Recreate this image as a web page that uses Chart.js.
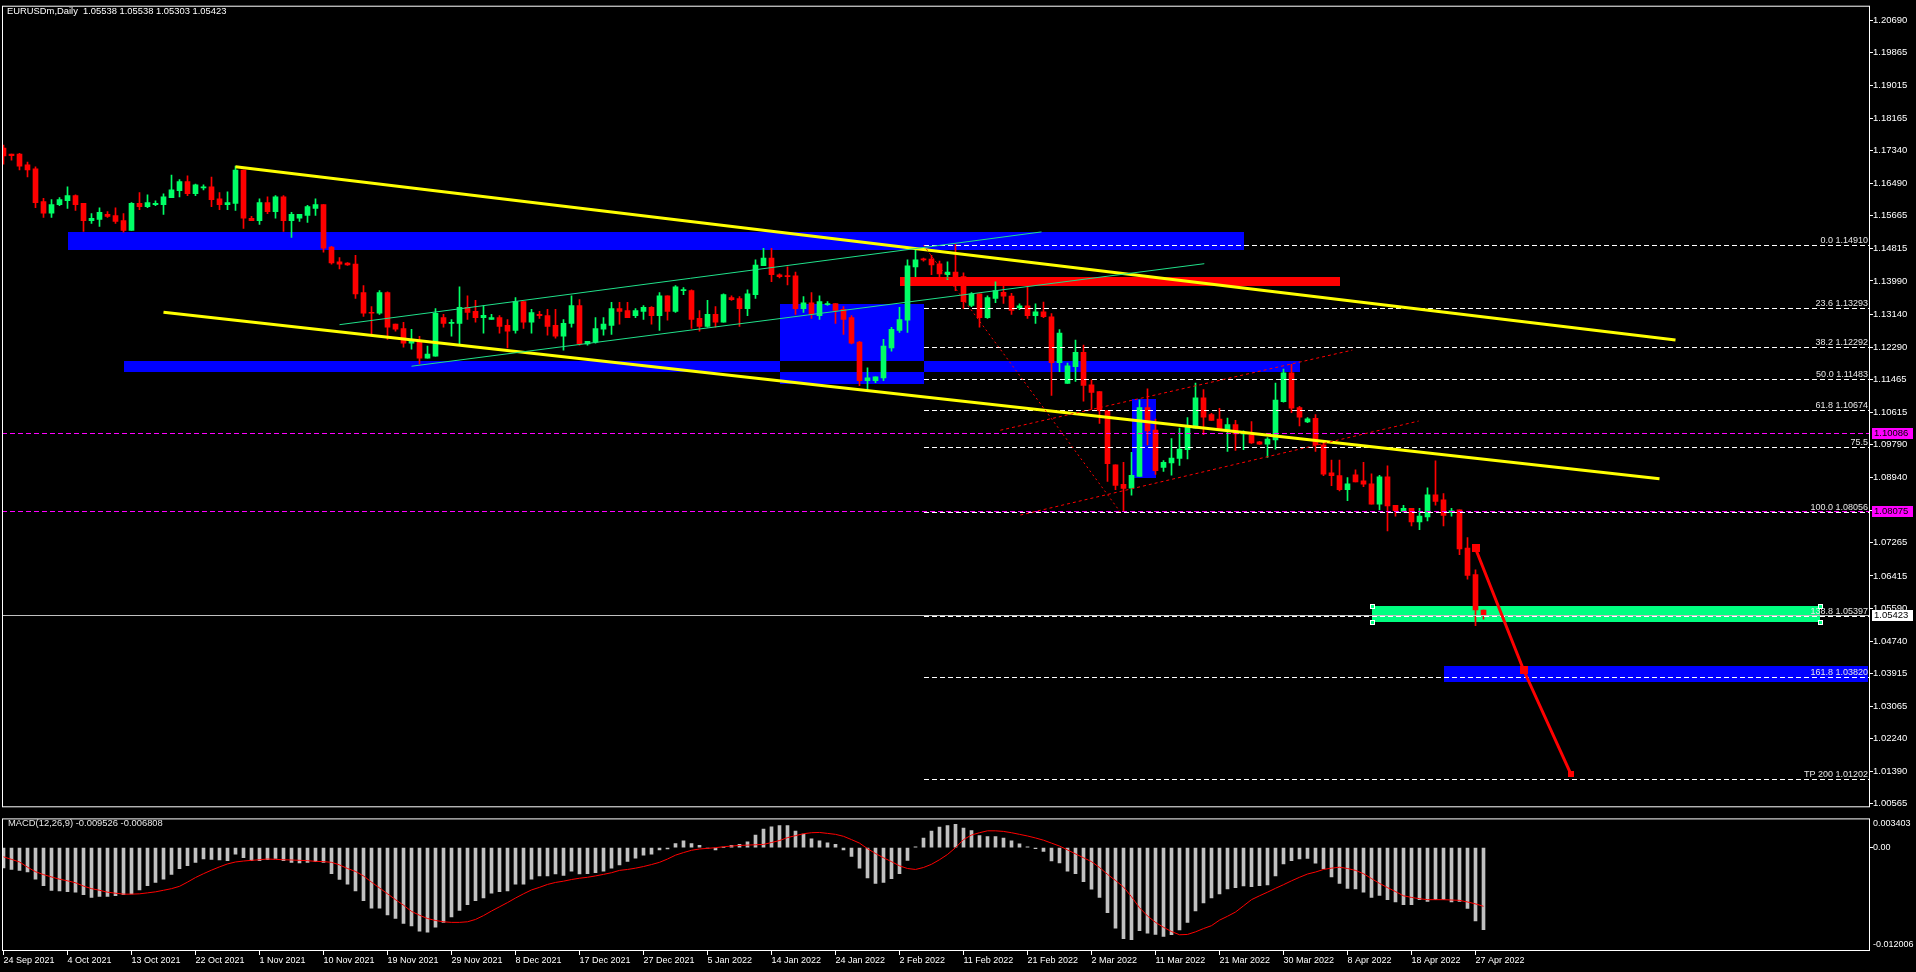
<!DOCTYPE html>
<html>
<head>
<meta charset="utf-8">
<title>EURUSDm, Daily</title>
<script src="https://cdn.jsdelivr.net/npm/chart.js@4.4.1/dist/chart.umd.min.js"></script>
<style>
  html, body { margin: 0; padding: 0; background: #000; overflow: hidden; }
  #wrap { position: relative; width: 1916px; height: 972px; }
  canvas { position: absolute; left: 0; }
  #main { top: 0; }
  #macd { top: 813px; }
</style>
</head>
<body>
<div id="wrap">
  <canvas id="main" width="1916" height="813"></canvas>
  <canvas id="macd" width="1916" height="159"></canvas>
</div>
<script>
// daily bars, 24 Sep 2021 .. 28 Apr 2022 (broker feed with Sunday bars)
const opens = [
  1.1740,1.1725,1.1725,1.1697,1.1687,1.1603,1.1573,1.1595,1.1605,1.1618,
  1.1598,1.1554,1.1557,1.1570,1.1567,1.1554,1.1529,1.1598,1.1590,1.1595,
  1.1595,1.1613,1.1631,1.1654,1.1623,1.1638,1.1641,1.1610,1.1595,1.1598,
  1.1684,1.1560,1.1554,1.1600,1.1577,1.1615,1.1554,1.1560,1.1567,1.1585,
  1.1595,1.1486,1.1448,1.1445,1.1442,1.1369,1.1318,1.1316,1.1369,1.1288,
  1.1277,1.1239,1.1244,1.1201,1.1206,1.1305,1.1290,1.1290,1.1331,1.1321,
  1.1305,1.1300,1.1305,1.1285,1.1272,1.1346,1.1293,1.1313,1.1310,1.1285,
  1.1257,1.1290,1.1336,1.1237,1.1242,1.1275,1.1285,1.1328,1.1323,1.1310,
  1.1321,1.1331,1.1310,1.1361,1.1321,1.1374,1.1374,1.1303,1.1282,1.1313,
  1.1293,1.1356,1.1354,1.1328,1.1364,1.1438,1.1458,1.1415,1.1412,1.1412,
  1.1328,1.1343,1.1310,1.1338,1.1341,1.1326,1.1305,1.1242,1.1143,1.1143,
  1.1150,1.1227,1.1272,1.1298,1.1435,1.1455,1.1455,1.1443,1.1415,1.1422,
  1.1410,1.1336,1.1366,1.1305,1.1354,1.1370,1.1360,1.1330,1.1335,1.1310,
  1.1320,1.1307,1.1189,1.1136,1.1179,1.1216,1.1132,1.1115,1.1066,1.0927,
  1.0877,1.0867,1.0897,1.1074,1.1016,1.0920,1.0932,1.0943,1.0966,1.1021,
  1.1099,1.1056,1.1044,1.1016,1.1030,1.1006,1.1003,1.0986,1.0980,1.0991,
  1.1089,1.1163,1.1074,1.1037,1.1046,1.0978,1.0906,1.0899,1.0863,1.0901,
  1.0886,1.0878,1.0826,1.0896,1.0823,1.0807,1.0815,1.0780,1.0793,1.0850,
  1.0837,1.0804,1.0811,1.0713,1.0645,1.05538
];
const highs = [
  1.1748,1.1725,1.1727,1.1704,1.1692,1.1611,1.1608,1.1613,1.1641,1.1620,
  1.1598,1.1572,1.1587,1.1577,1.1587,1.1572,1.1600,1.1626,1.1620,1.1605,
  1.1623,1.1671,1.1659,1.1669,1.1648,1.1646,1.1666,1.1626,1.1628,1.1694,
  1.1684,1.1565,1.1610,1.1615,1.1618,1.1618,1.1575,1.1570,1.1593,1.1610,
  1.1595,1.1488,1.1459,1.1446,1.1465,1.1387,1.1333,1.1374,1.1371,1.1288,
  1.1293,1.1275,1.1257,1.1232,1.1328,1.1313,1.1300,1.1384,1.1361,1.1349,
  1.1336,1.1313,1.1310,1.1300,1.1356,1.1346,1.1326,1.1321,1.1326,1.1326,
  1.1300,1.1361,1.1351,1.1244,1.1305,1.1305,1.1344,1.1344,1.1344,1.1328,
  1.1336,1.1333,1.1369,1.1361,1.1387,1.1382,1.1376,1.1323,1.1349,1.1333,
  1.1366,1.1361,1.1359,1.1376,1.1453,1.1483,1.1483,1.1417,1.1435,1.1422,
  1.1359,1.1369,1.1361,1.1346,1.1341,1.1333,1.1310,1.1244,1.1176,1.1153,
  1.1249,1.1280,1.1331,1.1453,1.1483,1.1458,1.1465,1.1450,1.1448,1.1493,
  1.1420,1.1369,1.1366,1.1361,1.1397,1.1395,1.1367,1.1340,1.1395,1.1340,
  1.1345,1.1315,1.1274,1.1188,1.1247,1.1234,1.1145,1.1115,1.1066,1.0927,
  1.0933,1.0959,1.1094,1.1122,1.1044,1.0938,1.0994,1.1021,1.1048,1.1137,
  1.1120,1.1059,1.1072,1.1047,1.1041,1.1014,1.1038,1.0987,1.0997,1.1137,
  1.1173,1.1185,1.1077,1.1048,1.1056,1.0985,1.0939,1.0939,1.0894,1.0914,
  1.0933,1.0904,1.0900,1.0924,1.0823,1.0823,1.0815,1.0815,1.0868,1.0937,
  1.0853,1.0815,1.0811,1.0740,1.0657,1.05538
];
const lows = [
  1.1699,1.1709,1.1684,1.1666,1.1587,1.1562,1.1562,1.1592,1.1585,1.1580,
  1.1526,1.1547,1.1539,1.1562,1.1547,1.1524,1.1529,1.1582,1.1587,1.1592,
  1.1570,1.1613,1.1615,1.1618,1.1618,1.1633,1.1590,1.1582,1.1582,1.1580,
  1.1534,1.1554,1.1544,1.1572,1.1560,1.1526,1.1511,1.1552,1.1549,1.1567,
  1.1473,1.1442,1.1430,1.1439,1.1354,1.1308,1.1262,1.1313,1.1249,1.1270,
  1.1229,1.1224,1.1186,1.1201,1.1206,1.1280,1.1257,1.1237,1.1300,1.1293,
  1.1265,1.1300,1.1265,1.1227,1.1265,1.1277,1.1265,1.1303,1.1260,1.1252,
  1.1221,1.1280,1.1234,1.1234,1.1239,1.1260,1.1262,1.1288,1.1305,1.1305,
  1.1300,1.1288,1.1272,1.1298,1.1318,1.1364,1.1277,1.1270,1.1280,1.1280,
  1.1293,1.1349,1.1282,1.1310,1.1354,1.1438,1.1397,1.1407,1.1389,1.1313,
  1.1318,1.1303,1.1300,1.1336,1.1290,1.1262,1.1237,1.1130,1.1120,1.1138,
  1.1143,1.1219,1.1267,1.1267,1.1410,1.1450,1.1415,1.1410,1.1402,1.1374,
  1.1328,1.1333,1.1280,1.1303,1.1343,1.1341,1.1313,1.1325,1.1303,1.1290,
  1.1305,1.1105,1.1166,1.1136,1.1141,1.1090,1.1069,1.1033,1.0884,1.0863,
  1.0809,1.0849,1.0897,1.0978,1.0902,1.0910,1.0900,1.0925,1.0942,1.1021,
  1.1004,1.1041,1.1018,1.0961,1.0964,1.0966,1.0982,1.0979,1.0946,1.0967,
  1.1088,1.1061,1.1027,1.1035,1.0961,1.0899,1.0873,1.0860,1.0835,1.0883,
  1.0871,1.0826,1.0811,1.0757,1.0795,1.0805,1.0770,1.0760,1.0783,1.0823,
  1.0770,1.0795,1.0696,1.0633,1.0514,1.05303
];
const closes = [
  1.1720,1.1721,1.1694,1.1684,1.1600,1.1573,1.1595,1.1608,1.1618,1.1595,
  1.1554,1.1560,1.1575,1.1565,1.1552,1.1529,1.1598,1.1590,1.1600,1.1598,
  1.1615,1.1633,1.1654,1.1623,1.1646,1.1641,1.1608,1.1595,1.1600,1.1684,
  1.1560,1.1554,1.1600,1.1577,1.1615,1.1554,1.1570,1.1570,1.1590,1.1595,
  1.1483,1.1445,1.1442,1.1440,1.1366,1.1316,1.1316,1.1369,1.1280,1.1275,
  1.1239,1.1247,1.1201,1.1211,1.1316,1.1290,1.1293,1.1331,1.1318,1.1305,
  1.1311,1.1305,1.1282,1.1270,1.1346,1.1293,1.1318,1.1310,1.1282,1.1257,
  1.1290,1.1336,1.1237,1.1244,1.1277,1.1288,1.1328,1.1321,1.1305,1.1323,
  1.1331,1.1310,1.1361,1.1321,1.1384,1.1376,1.1300,1.1282,1.1313,1.1293,
  1.1364,1.1351,1.1328,1.1366,1.1440,1.1458,1.1415,1.1410,1.1410,1.1328,
  1.1343,1.1313,1.1346,1.1341,1.1323,1.1300,1.1239,1.1143,1.1150,1.1153,
  1.1232,1.1275,1.1300,1.1438,1.1453,1.1453,1.1440,1.1417,1.1422,1.1402,
  1.1346,1.1366,1.1305,1.1356,1.1374,1.1360,1.1323,1.1335,1.1310,1.1320,
  1.1307,1.1189,1.1265,1.1181,1.1216,1.1131,1.1113,1.1066,1.0930,1.0874,
  1.0866,1.0900,1.1074,1.1014,1.0912,1.0933,1.0944,1.0967,1.1025,1.1099,
  1.1049,1.1041,1.1018,1.1030,1.1006,1.1011,1.0983,1.0980,1.0993,1.1093,
  1.1163,1.1072,1.1049,1.1045,1.0978,1.0903,1.0899,1.0863,1.0878,1.0883,
  1.0877,1.0826,1.0896,1.0821,1.0809,1.0815,1.0780,1.0795,1.0850,1.0833,
  1.0797,1.0809,1.0711,1.0643,1.0554,1.05423
];

// MACD(12,26,9): main line drawn as histogram, signal as line
const macdHist = [
  -0.00234,-0.00253,-0.00264,-0.00283,-0.00366,-0.00442,-0.00498,-0.00502,-0.00510,-0.00517,
  -0.00547,-0.00578,-0.00566,-0.00566,-0.00559,-0.00547,-0.00536,-0.00491,-0.00442,-0.00404,
  -0.00366,-0.00310,-0.00245,-0.00208,-0.00170,-0.00132,-0.00136,-0.00143,-0.00151,-0.00076,
  -0.00117,-0.00151,-0.00151,-0.00140,-0.00125,-0.00151,-0.00170,-0.00177,-0.00170,-0.00162,
  -0.00170,-0.00302,-0.00370,-0.00423,-0.00502,-0.00615,-0.00702,-0.00702,-0.00782,-0.00823,
  -0.00880,-0.00910,-0.00970,-0.00982,-0.00925,-0.00868,-0.00804,-0.00729,-0.00661,-0.00615,
  -0.00585,-0.00529,-0.00510,-0.00502,-0.00423,-0.00423,-0.00366,-0.00328,-0.00328,-0.00306,
  -0.00321,-0.00272,-0.00306,-0.00302,-0.00291,-0.00272,-0.00238,-0.00200,-0.00159,-0.00121,
  -0.00087,-0.00076,-0.00026,-0.00015,0.00049,0.00079,0.00049,0.00026,-0.00004,-0.00026,
  0.00004,0.00026,0.00038,0.00068,0.00147,0.00215,0.00242,0.00257,0.00257,0.00193,
  0.00159,0.00102,0.00079,0.00057,0.00038,-0.00026,-0.00102,-0.00238,-0.00351,-0.00415,
  -0.00404,-0.00359,-0.00302,-0.00147,0.00011,0.00113,0.00193,0.00238,0.00257,0.00272,
  0.00227,0.00200,0.00140,0.00128,0.00128,0.00113,0.00079,0.00045,0.00011,-0.00011,
  -0.00042,-0.00155,-0.00177,-0.00272,-0.00302,-0.00396,-0.00483,-0.00578,-0.00755,-0.00936,
  -0.01057,-0.01068,-0.00963,-0.00993,-0.01008,-0.01031,-0.01012,-0.00955,-0.00868,-0.00736,
  -0.00642,-0.00585,-0.00536,-0.00479,-0.00464,-0.00445,-0.00453,-0.00442,-0.00434,-0.00328,
  -0.00189,-0.00151,-0.00132,-0.00125,-0.00181,-0.00245,-0.00340,-0.00415,-0.00472,-0.00479,
  -0.00517,-0.00578,-0.00555,-0.00604,-0.00630,-0.00661,-0.00661,-0.00604,-0.00623,-0.00604,
  -0.00604,-0.00630,-0.00623,-0.00706,-0.00850,-0.00953
];
const macdSignal = [
  -0.00106,-0.00136,-0.00166,-0.00227,-0.00279,-0.00313,-0.00340,-0.00366,-0.00385,-0.00408,
  -0.00446,-0.00476,-0.00495,-0.00517,-0.00529,-0.00540,-0.00540,-0.00536,-0.00525,-0.00513,
  -0.00495,-0.00476,-0.00449,-0.00400,-0.00347,-0.00302,-0.00261,-0.00223,-0.00189,-0.00166,
  -0.00155,-0.00147,-0.00140,-0.00132,-0.00136,-0.00140,-0.00143,-0.00147,-0.00151,-0.00159,
  -0.00162,-0.00170,-0.00200,-0.00242,-0.00276,-0.00328,-0.00400,-0.00468,-0.00536,-0.00604,
  -0.00668,-0.00740,-0.00785,-0.00823,-0.00846,-0.00861,-0.00868,-0.00868,-0.00861,-0.00834,
  -0.00789,-0.00736,-0.00687,-0.00638,-0.00585,-0.00536,-0.00491,-0.00461,-0.00427,-0.00404,
  -0.00389,-0.00370,-0.00355,-0.00344,-0.00328,-0.00310,-0.00291,-0.00264,-0.00253,-0.00238,
  -0.00219,-0.00196,-0.00170,-0.00132,-0.00087,-0.00057,-0.00030,-0.00015,-0.00008,0.00000,
  0.00011,0.00019,0.00026,0.00030,0.00034,0.00038,0.00060,0.00083,0.00117,0.00140,
  0.00162,0.00174,0.00177,0.00166,0.00155,0.00132,0.00094,0.00053,-0.00011,-0.00068,
  -0.00117,-0.00162,-0.00211,-0.00242,-0.00253,-0.00230,-0.00193,-0.00140,-0.00079,0.00000,
  0.00094,0.00147,0.00174,0.00196,0.00196,0.00189,0.00174,0.00155,0.00136,0.00113,
  0.00087,0.00053,0.00019,-0.00026,-0.00072,-0.00117,-0.00162,-0.00230,-0.00310,-0.00381,
  -0.00457,-0.00570,-0.00698,-0.00793,-0.00868,-0.00925,-0.00974,-0.01012,-0.01008,-0.00978,
  -0.00940,-0.00906,-0.00842,-0.00797,-0.00748,-0.00676,-0.00604,-0.00559,-0.00517,-0.00472,
  -0.00430,-0.00385,-0.00344,-0.00306,-0.00283,-0.00253,-0.00238,-0.00227,-0.00242,-0.00264,
  -0.00302,-0.00359,-0.00415,-0.00464,-0.00510,-0.00559,-0.00578,-0.00593,-0.00604,-0.00604,
  -0.00604,-0.00608,-0.00612,-0.00631,-0.00653,-0.00681
];

// one date label every 8 bars, starting at bar 0
const tickLabels = [
  '24 Sep 2021','4 Oct 2021','13 Oct 2021','22 Oct 2021','1 Nov 2021','10 Nov 2021',
  '19 Nov 2021','29 Nov 2021','8 Dec 2021','17 Dec 2021','27 Dec 2021','5 Jan 2022',
  '14 Jan 2022','24 Jan 2022','2 Feb 2022','11 Feb 2022','21 Feb 2022','2 Mar 2022',
  '11 Mar 2022','21 Mar 2022','30 Mar 2022','8 Apr 2022','18 Apr 2022','27 Apr 2022'
];
const priceTicks = [
  1.20690,1.19865,1.19015,1.18165,1.17340,1.16490,1.15665,1.14815,1.13990,1.13140,
  1.12290,1.11465,1.10615,1.09790,1.08940,1.08090,1.07265,1.06415,1.05590,1.04740,
  1.03915,1.03065,1.02240,1.01390,1.00565
];
const macdTickLabels = ['0.003403', '0.00', '-0.012006'];

// chart objects, anchored on (bar index, price)
const boxes = [
  { from: 8,   to: 155, top: 1.15239, bottom: 1.14781, color: '#0000ff' },
  { from: 15,  to: 162, top: 1.11935, bottom: 1.11655, color: '#0000ff' },
  { from: 97,  to: 115, top: 1.13409, bottom: 1.11350, color: '#0000ff' },
  { from: 141, to: 144, top: 1.10969, bottom: 1.08936, color: '#0000ff' },
  { from: 112, to: 167, top: 1.14095, bottom: 1.13866, color: '#ff0000' },
  { from: 180, to: 233, top: 1.04108, bottom: 1.03684, color: '#0000ff' },
  { from: 171, to: 227, top: 1.05650, bottom: 1.05226, color: '#00ff80' }
];
const trendLines = [
  { pts: [[29, 1.16924], [209, 1.12476]], color: '#ffff00', width: 3 },
  { pts: [[20, 1.13188], [207, 1.08911]], color: '#ffff00', width: 3 },
  { pts: [[42, 1.12867], [129.75, 1.15249]], color: '#20e08a', width: 1 },
  { pts: [[51, 1.11800], [150.1, 1.14433]], color: '#20e08a', width: 1 },
  { pts: [[115, 1.14910], [139.6, 1.08056]], color: '#ff0000', width: 1, dash: [2, 3] },
  { pts: [[124.6, 1.10156], [168.6, 1.12214]], color: '#ff0000', width: 1, dash: [3, 3] },
  { pts: [[127.1, 1.07978], [176.9, 1.10393]], color: '#ff0000', width: 1, dash: [3, 3] }
];
const fibStart = 115;
const fibLevels = [
  { price: 1.14910, text: '0.0 1.14910' },
  { price: 1.13293, text: '23.6 1.13293' },
  { price: 1.12292, text: '38.2 1.12292' },
  { price: 1.11483, text: '50.0 1.11483' },
  { price: 1.10674, text: '61.8 1.10674' },
  { price: 1.09735, text: '75.5' },
  { price: 1.08056, text: '100.0 1.08056' },
  { price: 1.05397, text: '138.8 1.05397' },
  { price: 1.03820, text: '161.8 1.03820' },
  { price: 1.01202, text: 'TP 200 1.01202' }
];
const hLines = [
  { price: 1.10086, color: '#ff00ff', dash: [5, 3], bg: '#ff00ff', fg: '#000000' },
  { price: 1.08075, color: '#ff00ff', dash: [5, 3], bg: '#ff00ff', fg: '#000000' },
  { price: 1.05423, color: '#c0c0c0', dash: [],     bg: '#ffffff', fg: '#000000' }
];
const arrowPath = [[184, 1.07120], [190, 1.04006], [195.9, 1.01337]];

const BULL = '#00ff66', BEAR = '#ff0000';
const FONT_FAMILY = "'Liberation Sans', Arial, sans-serif";
const FONT_SMALL = { family: FONT_FAMILY, size: 9 };
const FONT_AXIS = { family: FONT_FAMILY, size: 9.5 };
// 8 px per bar, bar 0 centred at x = 3.5
const X_MIN = -0.1875, X_MAX = 233.3125;

const candleColors = closes.map((c, i) => (c >= opens[i] ? BULL : BEAR));

function frame(chart) {
  const { ctx, chartArea: a } = chart;
  ctx.save();
  ctx.strokeStyle = '#ffffff';
  ctx.lineWidth = 1;
  ctx.strokeRect(a.left + 0.5, a.top + 0.5, a.width - 1, a.height - 1);
  ctx.restore();
}

const mainObjects = {
  id: 'mt4Objects',
  beforeDatasetsDraw(chart) {
    const { ctx, chartArea: a } = chart;
    const X = v => chart.scales.x.getPixelForValue(v);
    const Y = v => chart.scales.y.getPixelForValue(v);
    ctx.save();
    ctx.beginPath();
    ctx.rect(a.left, a.top, a.width, a.height);
    ctx.clip();
    const px = boxes.map(b => ({
      x0: Math.round(X(b.from)), x1: Math.round(X(b.to)),
      y0: Math.round(Y(b.top)), y1: Math.round(Y(b.bottom)), color: b.color
    }));
    px.forEach(r => {
      ctx.fillStyle = r.color;
      ctx.fillRect(r.x0, r.y0, r.x1 - r.x0, r.y1 - r.y0);
    });
    // MT4 fills rectangles in XOR mode: two blue ones cancel where they overlap
    for (let m = 0; m < px.length; m++) {
      for (let n = m + 1; n < px.length; n++) {
        const p = px[m], q = px[n];
        if (p.color !== q.color) continue;
        const x0 = Math.max(p.x0, q.x0), x1 = Math.min(p.x1, q.x1);
        const y0 = Math.max(p.y0, q.y0), y1 = Math.min(p.y1, q.y1);
        if (x1 > x0 && y1 > y0) {
          ctx.fillStyle = '#000000';
          ctx.fillRect(x0, y0, x1 - x0, y1 - y0);
        }
      }
    }
    ctx.restore();
  },
  afterDatasetsDraw(chart) {
    const { ctx, chartArea: a } = chart;
    const X = v => chart.scales.x.getPixelForValue(v);
    const Y = v => chart.scales.y.getPixelForValue(v);
    ctx.save();
    ctx.beginPath();
    ctx.rect(a.left, a.top, a.width, a.height);
    ctx.clip();

    // full width price lines
    hLines.forEach(h => {
      const y = Math.round(Y(h.price)) + 0.5;
      ctx.strokeStyle = h.color;
      ctx.lineWidth = 1;
      ctx.setLineDash(h.dash);
      ctx.beginPath();
      ctx.moveTo(a.left, y);
      ctx.lineTo(a.right, y);
      ctx.stroke();
    });

    // fibonacci levels
    ctx.font = '9px ' + FONT_FAMILY;
    ctx.textAlign = 'right';
    ctx.textBaseline = 'alphabetic';
    fibLevels.forEach(f => {
      const y = Math.round(Y(f.price)) + 0.5;
      ctx.strokeStyle = '#ffffff';
      ctx.setLineDash([5, 3]);
      ctx.beginPath();
      ctx.moveTo(Math.round(X(fibStart)), y);
      ctx.lineTo(a.right, y);
      ctx.stroke();
      ctx.fillStyle = '#e6e6e6';
      ctx.fillText(f.text, a.right - 2, y - 2.5);
    });

    // trend lines and channels
    trendLines.forEach(t => {
      ctx.strokeStyle = t.color;
      ctx.lineWidth = t.width;
      ctx.setLineDash(t.dash || []);
      ctx.beginPath();
      t.pts.forEach(([i, p], k) => (k ? ctx.lineTo(X(i), Y(p)) : ctx.moveTo(X(i), Y(p))));
      ctx.stroke();
    });

    // projected move
    ctx.setLineDash([]);
    ctx.strokeStyle = '#ff0000';
    ctx.fillStyle = '#ff0000';
    ctx.lineWidth = 3;
    ctx.beginPath();
    arrowPath.forEach(([i, p], k) => (k ? ctx.lineTo(X(i), Y(p)) : ctx.moveTo(X(i), Y(p))));
    ctx.stroke();
    arrowPath.forEach(([i, p], k) => {
      const s = k < arrowPath.length - 1 ? 8 : 6;
      ctx.fillRect(Math.round(X(i) - s / 2), Math.round(Y(p) - s / 2), s, s);
    });

    // selection handles of the green zone
    const g = boxes[boxes.length - 1];
    [[g.from, g.top], [g.to, g.top], [g.from, g.bottom], [g.to, g.bottom]].forEach(([i, p]) => {
      const cx = Math.round(X(i)), cy = Math.round(Y(p));
      ctx.fillStyle = '#ffffff';
      ctx.fillRect(cx - 2, cy - 2, 5, 5);
      ctx.fillStyle = g.color;
      ctx.fillRect(cx - 1, cy - 1, 3, 3);
    });
    ctx.restore();
  },
  afterDraw(chart) {
    const { ctx, chartArea: a } = chart;
    const Y = v => chart.scales.y.getPixelForValue(v);
    ctx.save();
    ctx.font = '9.5px ' + FONT_FAMILY;
    ctx.textBaseline = 'middle';
    ctx.textAlign = 'left';
    hLines.forEach(h => {
      const y = Math.round(Y(h.price));
      ctx.fillStyle = h.bg;
      ctx.fillRect(a.right + 2, y - 5, 41, 11);
      ctx.fillStyle = h.fg;
      ctx.fillText(h.price.toFixed(5), a.right + 4, y + 0.5);
    });
    ctx.fillStyle = '#ffffff';
    ctx.textBaseline = 'alphabetic';
    ctx.font = '9.4px ' + FONT_FAMILY;
    ctx.fillText('EURUSDm,Daily  1.05538 1.05538 1.05303 1.05423', 7, 14);
    ctx.restore();
    frame(chart);
  }
};

new Chart(document.getElementById('main'), {
  type: 'bar',
  data: {
    datasets: [
      {
        data: opens.map((o, i) => ({ x: i, y: [o, closes[i]] })),
        backgroundColor: candleColors, barThickness: 5, minBarLength: 1, grouped: false, order: 0
      },
      {
        data: lows.map((l, i) => ({ x: i, y: [l, highs[i]] })),
        backgroundColor: candleColors, barThickness: 1, grouped: false, order: 1
      }
    ]
  },
  options: {
    responsive: false,
    animation: false,
    events: [],
    layout: { padding: { left: 2, top: 2, right: 0, bottom: 1 } },
    plugins: { legend: { display: false }, tooltip: { enabled: false } },
    scales: {
      x: { type: 'linear', min: X_MIN, max: X_MAX, offset: false, display: false },
      y: {
        position: 'right', min: 1.00474, max: 1.21058, beginAtZero: false,
        afterBuildTicks: ax => { ax.ticks = priceTicks.map(v => ({ value: v })); },
        afterFit: ax => { ax.width = 46; },
        ticks: { color: '#ffffff', font: FONT_AXIS, padding: 0, autoSkip: false, callback: v => v.toFixed(5) },
        grid: { drawOnChartArea: false, color: '#ffffff', tickLength: 3 },
        border: { display: false }
      }
    }
  },
  plugins: [mainObjects]
});

const macdDecor = {
  id: 'macdDecor',
  afterDraw(chart) {
    const { ctx } = chart;
    ctx.save();
    ctx.font = '9.4px ' + FONT_FAMILY;
    ctx.fillStyle = '#e6e6e6';
    ctx.textAlign = 'left';
    ctx.fillText('MACD(12,26,9) -0.009526 -0.006808', 8, 13);
    ctx.restore();
    frame(chart);
  }
};

new Chart(document.getElementById('macd'), {
  type: 'bar',
  data: {
    datasets: [
      {
        type: 'line',
        data: macdSignal.map((v, i) => ({ x: i, y: v })),
        borderColor: '#ff0000', borderWidth: 1, pointRadius: 0, tension: 0, order: 0
      },
      {
        data: macdHist.map((v, i) => ({ x: i, y: v })),
        backgroundColor: '#c0c0c0', barThickness: 3, grouped: false, order: 1
      }
    ]
  },
  options: {
    responsive: false,
    animation: false,
    events: [],
    layout: { padding: { left: 2, top: 1, right: 0, bottom: 0 } },
    plugins: { legend: { display: false }, tooltip: { enabled: false } },
    scales: {
      x: {
        type: 'linear', min: X_MIN, max: X_MAX, offset: false,
        afterBuildTicks: ax => { ax.ticks = tickLabels.map((t, k) => ({ value: k * 8 })); },
        afterFit: ax => { ax.height = 21; },
        ticks: {
          color: '#ffffff', font: FONT_SMALL, align: 'start', padding: 0, maxRotation: 0, autoSkip: false,
          callback: v => tickLabels[Math.round(v / 8)]
        },
        grid: { drawOnChartArea: false, color: '#ffffff', tickLength: 4, offset: false },
        border: { display: false }
      },
      y: {
        position: 'right', min: -0.012006, max: 0.003403, beginAtZero: false,
        // MT4 prints the panel max/min labels just inside the panel edges
        afterBuildTicks: ax => { ax.ticks = [0.002762, 0, -0.011219].map(v => ({ value: v })); },
        afterFit: ax => { ax.width = 46; },
        ticks: { color: '#ffffff', font: FONT_SMALL, padding: 0, autoSkip: false, callback: (v, k) => macdTickLabels[k] },
        grid: {
          drawOnChartArea: false, tickLength: 3,
          color: c => (c.tick && c.tick.value === 0 ? '#ffffff' : 'rgba(0,0,0,0)')
        },
        border: { display: false }
      }
    }
  },
  plugins: [macdDecor]
});
</script>
</body>
</html>
